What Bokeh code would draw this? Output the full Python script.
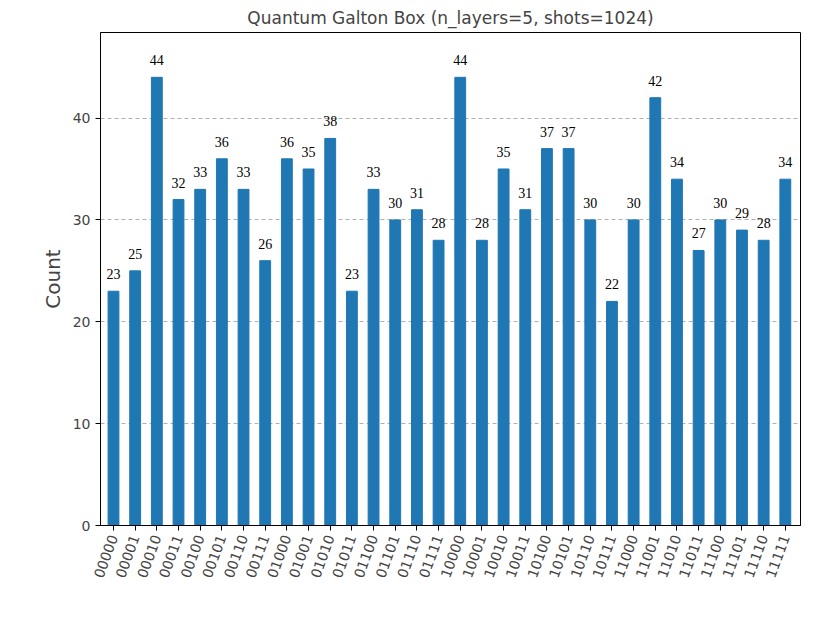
from bokeh.plotting import figure
from bokeh.models import ColumnDataSource, LabelSet, FixedTicker, Range1d
from bokeh.embed import file_html
from bokeh.resources import INLINE
from math import pi

states = ["00000", "00001", "00010", "00011", "00100", "00101", "00110", "00111",
          "01000", "01001", "01010", "01011", "01100", "01101", "01110", "01111",
          "10000", "10001", "10010", "10011", "10100", "10101", "10110", "10111",
          "11000", "11001", "11010", "11011", "11100", "11101", "11110", "11111"]
counts = [23, 25, 44, 32, 33, 36, 33, 26,
          36, 35, 38, 23, 33, 30, 31, 28,
          44, 28, 35, 31, 37, 37, 30, 22,
          30, 42, 34, 27, 30, 29, 28, 34]

idx = list(range(len(states)))
source = ColumnDataSource(data=dict(x=idx, y=counts, label=[str(c) for c in counts]))

p = figure(width=820, height=600, output_backend="svg", toolbar_location=None, tools="",
           title="Quantum Galton Box (n_layers=5, shots=1024)",
           min_border_left=100, min_border_right=20, min_border_top=28, min_border_bottom=75)
p.x_range = Range1d(-0.6, 31.7)
p.y_range = Range1d(0, 48.4)

p.vbar(x="x", top="y", width=0.5, color="#1f77b4", source=source)
labels = LabelSet(x="x", y="y", text="label", source=source, text_align="center",
                  text_font="DejaVu Sans", text_font_size="14px", y_offset=12, text_color="black")
p.add_layout(labels)

p.title.align = "center"
p.title.text_font = "DejaVu Sans"
p.title.text_font_size = "17px"
p.title.text_font_style = "normal"

p.xaxis.ticker = FixedTicker(ticks=idx)
p.xaxis.major_label_overrides = {i: s for i, s in enumerate(states)}
p.xaxis.major_label_orientation = 70 * pi / 180
p.yaxis.ticker = FixedTicker(ticks=[0, 10, 20, 30, 40])
p.yaxis.axis_label = "Count"
p.yaxis.axis_label_text_font_size = "20px"
p.yaxis.axis_label_text_font_style = "normal"
p.axis.axis_label_text_font = "DejaVu Sans"
p.axis.major_label_text_font = "DejaVu Sans"
p.axis.major_label_text_font_size = "14px"
p.axis.minor_tick_line_color = None
p.axis.major_tick_in = 0
p.axis.major_tick_out = 5

p.xgrid.grid_line_color = None
p.ygrid.grid_line_color = "#b0b0b0"
p.ygrid.grid_line_dash = "4 3"
p.outline_line_color = "black"

open("out.html", "w").write(file_html(p, INLINE))
